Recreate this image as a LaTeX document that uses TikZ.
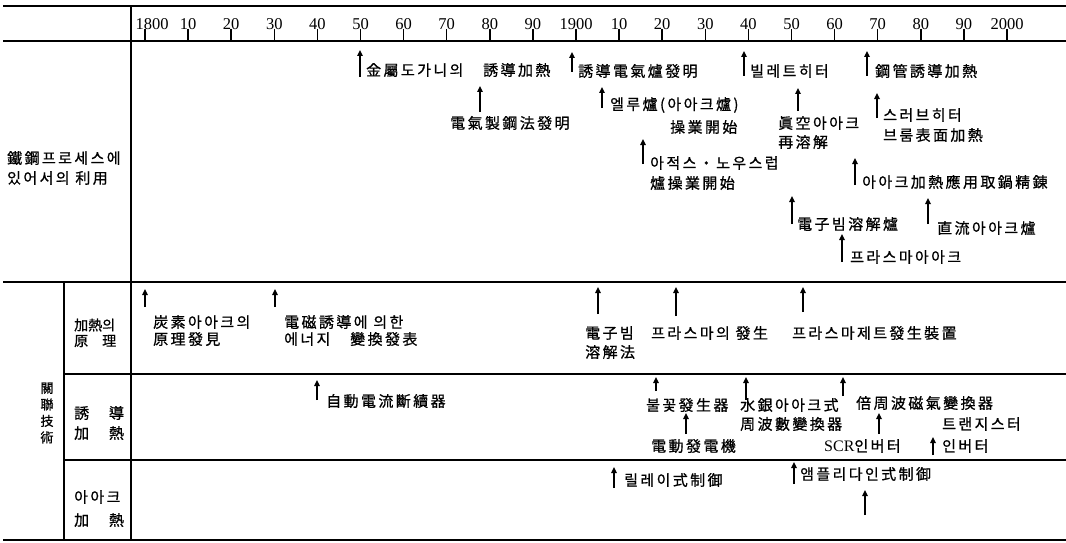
\documentclass[tikz,border=0pt]{standalone}
\usepackage{fontspec}
\usetikzlibrary{arrows.meta}
\newfontfamily\krfont[LetterSpace=16,FakeBold=0.8]{Noto Sans CJK KR}
\newfontfamily\krtight[FakeBold=0.8]{Noto Sans CJK KR}
\newfontfamily\yrfont{Liberation Serif}
\newcommand\upevent[4]{%
  \coordinate (#1t) at (#2,#3);
  \coordinate (#1h) at (#2,#4);
  \draw[uparrow] (#1t) -- (#1h);}
\begin{document}
\begin{tikzpicture}[x=1pt,y=-1pt,
  lbl/.style={font=\krfont\fontsize{15}{17}\selectfont, inner sep=0pt, anchor=west},
  lbltight/.style={font=\krtight\fontsize{14}{17}\selectfont, inner sep=0pt, anchor=west},
  yr/.style={font=\yrfont\fontsize{16.5}{18}\selectfont, inner sep=0pt},
  uparrow/.style={line width=1.8pt, -{Triangle[width=5.5pt,length=6pt]}},
  tickmark/.style={line width=1.5pt},
  rule/.style={line width=1.5pt},
  vrule/.style={line width=2pt}]
\useasboundingbox (0,0) rectangle (1066,543);
\fill[white] (0,0) rectangle (1066,543);
% frame lines
\draw[rule] (3,6) -- (1066,6);
\draw[rule] (3,41) -- (1066,41);
\draw[rule] (3,282) -- (1066,282);
\draw[rule] (3,540) -- (1066,540);
\draw[rule] (64,374) -- (1066,374);
\draw[rule] (64,460) -- (1066,460);
\draw[vrule] (131,6) -- (131,540);
\draw[vrule] (64,282) -- (64,540);
% year scale
\foreach \i/\t in {0/1800,1/10,2/20,3/30,4/40,5/50,6/60,7/70,8/80,9/90,10/1900,11/10,12/20,13/30,14/40,15/50,16/60,17/70,18/80,19/90,20/2000}{
  \draw[tickmark] ({145+43.1*\i},29) -- ({145+43.1*\i},41);
  \ifnum\i=0
    \node[yr] (yr\i) at (152,24) {\t};
  \else
    \node[yr] (yr\i) at ({145+43.1*\i},24) {\t};
  \fi
}
% left labels
\node[lbl] (L1a) at (7,158) {鐵鋼프로세스에};
\node[lbl] (L1b) at (7,178) {있어서의 利用};
\node[lbltight] (L2a) at (74,325) {加熱의};
\node[lbltight] (L2b) at (74,341) {原　理};
\node[lbl] (L3a) at (74,413) {誘　導};
\node[lbl] (L3b) at (74,433) {加　熱};
\node[lbl] (L4a) at (74,497) {아아크};
\node[lbl] (L4b) at (74,520) {加　熱};
\node[font=\krtight\fontsize{13}{16.5}\selectfont, inner sep=0pt, align=center] (L5) at (47,413) {關\\聯\\技\\術};
% steel process events
\upevent{a1}{360}{77}{50}
\node[lbl] (e1) at (366,70) {金屬도가니의　誘導加熱};
\upevent{a2}{480}{112}{86}
\node[lbl] (e2) at (450,123) {電氣製鋼法發明};
\upevent{a3}{572}{72}{52}
\node[lbl] (e3) at (578,71) {誘導電氣爐發明};
\upevent{a4}{744}{76}{51}
\node[lbl] (e4) at (750,71) {빌레트히터};
\upevent{a5}{867}{76}{51}
\node[lbl] (e5) at (875,71) {鋼管誘導加熱};
\upevent{a6}{602}{108}{87}
\node[lbl] (e6a) at (610,105) {엘루爐(아아크爐)};
\node[lbl] (e6b) at (670,127) {操業開始};
\upevent{a7}{643}{164}{139}
\node[lbl] (e7a) at (650,163) {아적스・노우스럽};
\node[lbl] (e7b) at (650,183) {爐操業開始};
\upevent{a8}{798}{111}{88}
\node[lbl] (e8a) at (778,123) {眞空아아크};
\node[lbl] (e8b) at (778,142) {再溶解};
\upevent{a9}{877}{118}{93}
\node[lbl] (e9a) at (883,115) {스러브히터};
\node[lbl] (e9b) at (883,135) {브룸表面加熱};
\upevent{a10}{855}{185}{158}
\node[lbl] (e10) at (862,182) {아아크加熱應用取鍋精錬};
\upevent{a11}{792}{224}{196}
\node[lbl] (e11) at (797,224) {電子빔溶解爐};
\upevent{a12}{928}{224}{198}
\node[lbl] (e12) at (937,228) {直流아아크爐};
\upevent{a13}{842}{262}{234}
\node[lbl] (e13) at (850,257) {프라스마아아크};
% related technology: heating principle
\upevent{r1}{145}{307}{289}
\node[lbl] (t1a) at (153,322) {炭素아아크의};
\node[lbl] (t1b) at (153,339) {原理發見};
\upevent{r2}{275}{307}{289}
\node[lbl] (t2a) at (284,322) {電磁誘導에 의한};
\node[lbl] (t2b) at (284,339) {에너지　變換發表};
\upevent{r3}{598}{314}{287}
\node[lbl] (t3a) at (585,333) {電子빔};
\node[lbl] (t3b) at (585,352) {溶解法};
\upevent{r4}{676}{316}{287}
\node[lbl] (t4) at (651,333) {프라스마의 發生};
\upevent{r5}{803}{312}{287}
\node[lbl] (t5) at (792,333) {프라스마제트發生裝置};
% induction heating
\upevent{r6}{317}{400}{380}
\node[lbl] (t6) at (326,401) {自動電流斷續器};
\upevent{r7}{656}{391}{377}
\node[lbl] (t7) at (646,405) {불꽃發生器};
\upevent{r8}{746}{400}{377}
\node[lbl] (t8a) at (740,405) {水銀아아크式};
\node[lbl] (t8b) at (740,424) {周波數變換器};
\upevent{r9}{843}{396}{377}
\node[lbl] (t9) at (856,403) {倍周波磁氣變換器};
\upevent{r10}{686}{434}{413}
\node[lbl] (t10) at (651,446) {電動發電機};
\upevent{r11}{879}{434}{413}
\node[lbl] (t11) at (824,446) {{\yrfont\fontsize{16}{17}\selectfont SCR}인버터};
\upevent{r12}{933}{455}{437}
\node[lbl] (t12a) at (942,424) {트랜지스터};
\node[lbl] (t12b) at (942,446) {인버터};
% arc heating
\upevent{r13}{614}{488}{467}
\node[lbl] (t13) at (624,480) {릴레이式制御};
\upevent{r14}{794}{484}{462}
\node[lbl] (t14) at (800,474) {앰플리다인式制御};
\upevent{r15}{865}{515}{490}
\end{tikzpicture}
\end{document}
